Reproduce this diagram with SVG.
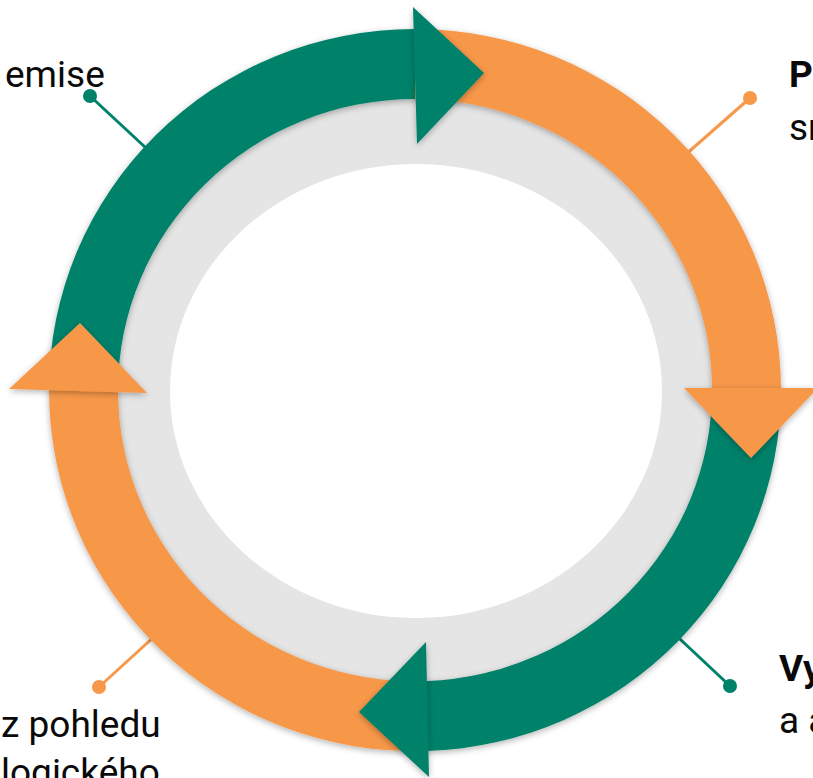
<svg xmlns="http://www.w3.org/2000/svg" width="813" height="778" viewBox="0 0 813 778">
  <defs>
    <filter id="sh" x="-20%" y="-20%" width="140%" height="140%">
      <feDropShadow dx="0" dy="2" stdDeviation="3" flood-color="#000" flood-opacity="0.3"/>
    </filter>
  </defs>
  <style>
    .g { fill: #00816a; }
    .o { fill: #f7984a; }
    .lg { stroke: #00816a; stroke-width: 3; fill: none; }
    .lo { stroke: #f7984a; stroke-width: 3; fill: none; }
    .t { font-family: Roboto, "Liberation Sans", sans-serif; font-size: 37px; fill: #0a0a0a; }
    .b { font-weight: bold; }
  </style>
  <rect width="813" height="778" fill="#fff"/>

  <g id="ring">
    <ellipse cx="415" cy="390" rx="330" ry="325" fill="#e5e5e5"/>
    <ellipse cx="416" cy="391" rx="246" ry="227" fill="#fff"/>
  </g>

  <g id="connectors">
    <line class="lg" x1="90" y1="96" x2="160" y2="161"/>
    <circle cx="90" cy="96" r="7" fill="#00816a"/>
    <line class="lo" x1="750" y1="98" x2="676" y2="163"/>
    <circle cx="750" cy="98" r="7" fill="#f7984a"/>
    <line class="lg" x1="730" y1="686" x2="633" y2="595"/>
    <circle cx="730" cy="686" r="7" fill="#00816a"/>
    <line class="lo" x1="99" y1="687" x2="157" y2="634"/>
    <circle cx="99" cy="687" r="7" fill="#f7984a"/>
  </g>

  <g id="bands" filter="url(#sh)">
    <path id="band-top-left" class="g" d="M 49 390 A 366 361 0 0 1 415 29 L 415 99 A 297 291 0 0 0 118 390 Z"/>
    <path id="band-top-right" class="o" d="M 415 29 A 366 361 0 0 1 781 390 L 712 390 A 297 291 0 0 0 415 99 Z"/>
    <path id="band-bottom-right" class="g" d="M 781 390 A 366 361 0 0 1 427 751 L 427 681 A 297 291 0 0 0 712 390 Z"/>
    <path id="band-bottom-left" class="o" d="M 427 751 A 366 361 0 0 1 49 390 L 118 390 A 297 291 0 0 0 427 681 Z"/>
  </g>

  <g id="heads" filter="url(#sh)">
    <polygon id="head-top" class="g" points="413,7 484,73 417,144"/>
    <polygon id="head-right" class="o" points="684,388 818,388 751,458"/>
    <polygon id="head-bottom" class="g" points="426,642 429,777 359,712"/>
    <polygon id="head-left" class="o" points="9,389 80,323 147,393"/>
  </g>

  <g id="label-top-left">
    <text class="t" x="5" y="87">emise</text>
  </g>
  <g id="label-top-right">
    <text class="t b" x="789" y="87">P</text>
    <text class="t" x="789" y="140">sm</text>
  </g>
  <g id="label-bottom-right">
    <text class="t b" x="779" y="681">Vy</text>
    <text class="t" x="779" y="733">a a</text>
  </g>
  <g id="label-bottom-left">
    <text class="t" x="1" y="737">z pohledu</text>
    <text class="t" x="1" y="785">logického</text>
  </g>
</svg>
